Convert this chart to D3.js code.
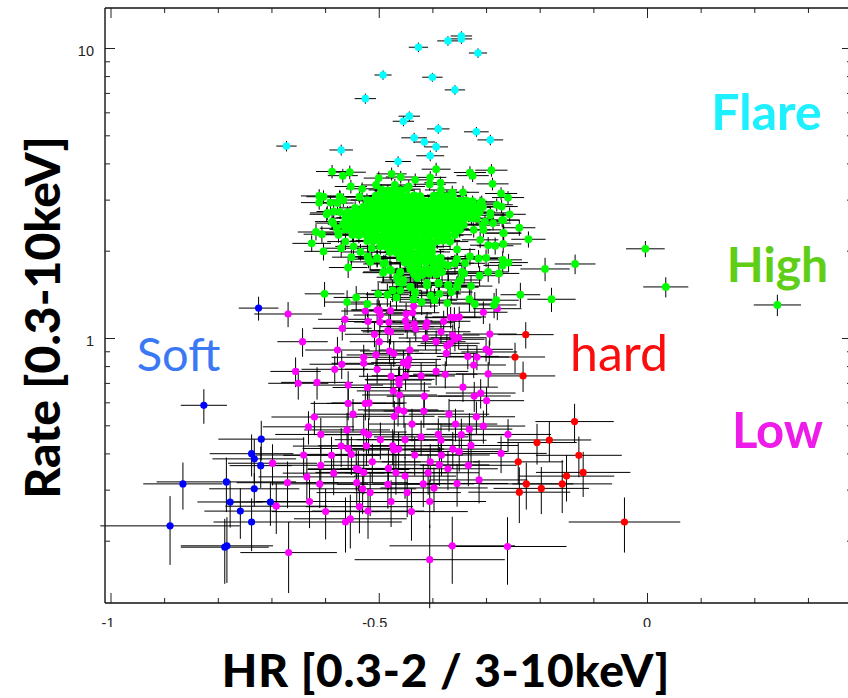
<!DOCTYPE html>
<html><head><meta charset="utf-8">
<script src="https://cdn.jsdelivr.net/npm/d3@7"></script>
<style>html,body{margin:0;padding:0;background:#fff;overflow:hidden}svg{display:block}</style>
</head><body><svg id="c" width="848" height="698"></svg>
<script>
// ---- Flare ----
const flareHr=[-.346,-.346,-.371,-.426,-.315,-.492,-.400,-.358,-.525,-.443,-.454,-.389,-.318,-.434,-.415,-.292,-.393,-.672,-.570,-.404,-.464];
const flareRate=[11.0,10.75,10.58,10.06,9.61,8.07,7.93,7.17,6.69,5.82,5.59,5.26,5.14,4.90,4.74,4.82,4.56,4.59,4.45,4.25,4.06];
const flareHrErr=[.02,.02,.02,.018,.017,.016,.019,.019,.02,.02,.02,.021,.023,.024,.02,.024,.022,.019,.022,.026,.024];
const flareRateErr=[.42,.42,.4,.38,.36,.3,.28,.27,.27,.22,.22,.2,.2,.2,.17,.2,.18,.19,.19,.18,.17];
// ---- High: resolved points around the cloud ----
const highHr=[-.587,-.567,-.554,-.552,-.500,-.505,-.476,-.459,-.432,-.393,-.404,-.405,-.385,-.384,-.330,-.325,-.290,-.288,-.343,-.363,
-.272,-.259,-.470,-.444,-.531,-.536,-.522,-.611,-.603,-.611,-.590,-.573,-.566,-.597,-.584,-.587,-.578,-.617,-.606,-.625,
-.603,-.570,-.575,-.562,-.551,-.557,-.519,-.503,-.513,-.491,-.491,-.477,-.460,-.454,-.463,-.474,-.460,-.441,-.432,-.467,
-.501,-.484,-.542,-.559,-.521,-.601,-.435,-.420,-.403,-.387,-.396,-.372,-.365,-.370,-.388,-.410,-.429,-.382,-.379,-.358,
-.341,-.348,-.354,-.328,-.331,-.321,-.285,-.281,-.236,-.312,-.296,-.276,-.269,-.258,-.269,-.314,-.300,-.354,-.354,-.238,
-.221,-.256,-.268,-.267,-.268,-.283,-.296,-.311,-.280,-.271,-.308,-.311,-.317,-.306,-.292,-.302,-.323,-.003,.035,.243,
-.134,-.190,-.178,
-.547,-.534,-.521,-.516,-.503,-.330,-.339,-.345,-.352,-.354,
-.466,-.460,-.456,-.441,-.432,-.311,-.317,-.292,-.287,-.305,
-.270,-.268,-.596,-.585,-.575,-.572,-.544,-.577,-.572,-.488,
-.479,-.492,-.371,-.389,-.410,-.371,-.428];
const highRate=[3.75,3.63,3.73,3.33,3.56,3.37,3.68,3.59,3.51,3.82,3.58,3.39,3.43,3.24,3.72,3.63,3.79,3.40,3.18,3.18,
3.15,3.05,3.37,3.33,3.27,3.07,2.99,3.09,3.07,2.93,2.93,3.07,2.99,2.67,2.73,2.52,2.39,2.32,2.28,2.12,
1.99,2.04,2.27,2.15,1.90,1.75,1.87,1.88,2.04,1.80,1.69,1.71,1.69,1.585,1.56,1.46,1.46,1.50,1.44,1.38,
1.42,1.41,1.38,1.33,1.31,1.42,1.36,1.33,1.40,1.42,1.35,1.32,1.44,1.52,1.54,1.52,1.65,1.69,1.80,1.81,
1.67,1.585,1.50,1.51,1.36,1.31,1.30,1.35,1.41,1.64,1.69,1.67,1.86,1.82,1.78,1.88,1.89,2.02,1.87,2.40,
2.19,2.67,2.55,2.30,2.11,2.08,2.09,2.18,2.88,2.84,2.95,2.84,2.58,2.45,2.65,2.52,2.36,2.03,1.50,1.30,
1.80,1.73,1.36,
2.07,1.98,1.91,1.83,1.89,1.91,1.81,1.69,1.55,1.50,
1.62,1.69,1.55,1.50,1.43,2.92,2.70,2.70,2.49,2.36,
2.55,2.30,2.70,2.49,2.30,2.72,2.81,2.92,3.06,1.81,
1.72,1.68,1.78,1.55,1.55,1.52,1.61];
const highHrErr=[.03,.028,.03,.03,.028,.028,.028,.028,.03,.027,.03,.03,.03,.03,.03,.03,.03,.03,.03,.03,
.03,.03,.03,.03,.03,.032,.03,.034,.032,.034,.03,.03,.03,.032,.032,.032,.032,.034,.034,.036,
.036,.034,.034,.034,.036,.036,.036,.036,.034,.038,.038,.038,.038,.04,.04,.04,.04,.04,.04,.042,
.04,.04,.042,.042,.042,.037,.042,.042,.04,.04,.042,.042,.04,.04,.04,.04,.038,.038,.036,.036,
.038,.04,.04,.04,.042,.042,.042,.042,.037,.036,.038,.038,.036,.036,.036,.036,.036,.034,.036,.03,
.032,.03,.03,.032,.034,.034,.034,.034,.03,.03,.03,.03,.032,.032,.03,.032,.032,.036,.042,.044,
.038,.046,.045,
.034,.036,.036,.038,.036,.036,.037,.038,.04,.04,
.038,.038,.04,.04,.042,.03,.032,.032,.033,.033,
.033,.034,.032,.033,.034,.032,.03,.03,.03,.037,
.038,.038,.037,.04,.04,.04,.039];
const highRateErr=[.2,.2,.2,.18,.19,.18,.19,.18,.18,.2,.18,.17,.17,.17,.19,.18,.19,.17,.17,.17,
.16,.16,.17,.17,.17,.16,.16,.17,.16,.16,.16,.16,.16,.15,.15,.15,.14,.15,.15,.14,
.14,.14,.14,.14,.14,.14,.13,.13,.14,.13,.13,.13,.13,.13,.13,.13,.13,.13,.13,.13,
.13,.13,.13,.13,.13,.14,.13,.13,.13,.13,.13,.13,.13,.13,.13,.13,.13,.13,.13,.13,
.13,.13,.13,.13,.13,.13,.13,.13,.14,.13,.13,.13,.13,.13,.13,.13,.13,.13,.13,.15,
.14,.15,.15,.14,.14,.14,.14,.14,.15,.15,.15,.15,.14,.14,.14,.14,.14,.13,.12,.11,
.14,.16,.13,
.14,.13,.13,.13,.13,.13,.13,.13,.13,.13,
.13,.13,.13,.13,.13,.15,.15,.15,.14,.14,
.14,.14,.15,.14,.14,.15,.15,.15,.16,.13,
.13,.13,.13,.13,.13,.13,.13];
// ---- High: dense cloud, positions estimated from its outline ----
const coreHr=[
-.495,-.483,-.471,-.459,-.448,
-.505,-.493,-.481,-.470,-.458,-.446,-.434,-.423,-.397,-.385,-.373,-.362,
-.513,-.501,-.489,-.478,-.466,-.454,-.442,-.431,-.419,-.407,-.395,-.384,-.372,-.360,-.348,-.337,-.325,
-.529,-.517,-.506,-.494,-.482,-.470,-.459,-.447,-.435,-.423,-.412,-.400,-.388,-.376,-.365,-.353,-.341,-.329,-.318,-.306,
-.558,-.546,-.534,-.523,-.511,-.499,-.487,-.476,-.464,-.452,-.440,-.429,-.417,-.405,-.393,-.382,-.370,-.358,-.346,-.335,-.323,-.312,
-.562,-.550,-.539,-.527,-.515,-.503,-.492,-.480,-.468,-.456,-.445,-.433,-.421,-.409,-.398,-.386,-.374,-.362,-.351,-.339,-.327,
-.566,-.554,-.542,-.531,-.519,-.507,-.495,-.484,-.472,-.460,-.448,-.437,-.425,-.413,-.401,-.390,-.378,-.366,-.354,-.342,
-.562,-.550,-.538,-.526,-.515,-.503,-.491,-.479,-.468,-.456,-.444,-.432,-.421,-.409,-.397,-.385,-.374,-.362,-.349,
-.549,-.537,-.525,-.513,-.502,-.490,-.478,-.466,-.455,-.443,-.431,-.419,-.408,-.396,-.384,-.372,-.358,
-.521,-.509,-.497,-.485,-.474,-.462,-.450,-.438,-.427,-.415,-.403,-.391,-.380,-.367,
-.497,-.485,-.473,-.461,-.449,-.438,-.426,-.414,-.401,
-.479,-.466,-.453,-.440,-.427,-.414,-.401,
-.460,-.448,-.435,-.423,-.410,-.398,-.385,
-.451,-.438,-.425,-.412,-.398,-.385,
-.441,-.427,-.414,-.400,-.387,
-.434,-.420,-.406,-.392];
const coreRate=[
3.24,3.22,3.25,3.23,3.26,
3.09,3.10,3.08,3.11,3.09,3.07,3.10,3.08,3.09,3.11,3.08,3.10,
2.97,2.96,2.98,2.97,2.95,2.98,2.96,2.97,2.99,2.96,2.97,2.95,2.98,2.96,2.97,2.98,2.96,
2.83,2.84,2.82,2.83,2.85,2.82,2.84,2.83,2.81,2.84,2.83,2.85,2.82,2.83,2.84,2.82,2.83,2.85,2.82,2.83,
2.71,2.70,2.72,2.71,2.69,2.71,2.73,2.70,2.71,2.72,2.70,2.71,2.69,2.72,2.71,2.70,2.72,2.71,2.69,2.71,2.70,2.72,
2.59,2.60,2.58,2.59,2.61,2.58,2.59,2.60,2.58,2.59,2.60,2.57,2.59,2.61,2.59,2.58,2.60,2.59,2.57,2.60,2.59,
2.47,2.48,2.46,2.47,2.49,2.47,2.46,2.48,2.47,2.45,2.47,2.48,2.46,2.47,2.49,2.47,2.46,2.48,2.47,2.46,
2.37,2.38,2.36,2.37,2.36,2.38,2.37,2.35,2.37,2.38,2.36,2.37,2.38,2.36,2.37,2.35,2.37,2.38,2.36,
2.27,2.26,2.28,2.27,2.25,2.27,2.28,2.26,2.27,2.28,2.26,2.27,2.25,2.27,2.28,2.26,2.27,
2.16,2.17,2.15,2.16,2.17,2.15,2.16,2.17,2.15,2.16,2.14,2.16,2.17,2.15,
2.07,2.06,2.08,2.07,2.06,2.08,2.07,2.06,2.07,
1.98,1.97,1.99,1.98,1.97,1.99,1.98,
1.89,1.90,1.88,1.89,1.90,1.88,1.89,
1.82,1.81,1.83,1.82,1.81,1.82,
1.73,1.74,1.72,1.73,1.74,
1.66,1.65,1.67,1.66];
const coreHrErr=[
.024,.026,.025,.024,.026,
.025,.026,.027,.024,.026,.025,.027,.024,.026,.025,.027,.026,
.026,.027,.025,.028,.026,.027,.025,.026,.028,.027,.025,.026,.028,.027,.026,.028,.027,
.026,.028,.027,.025,.028,.026,.027,.029,.026,.028,.027,.025,.028,.027,.026,.029,.027,.028,.026,.029,
.028,.027,.029,.026,.028,.027,.029,.027,.026,.028,.029,.027,.026,.028,.029,.027,.028,.026,.029,.028,.027,.029,
.028,.029,.027,.03,.028,.027,.029,.028,.03,.027,.028,.029,.027,.03,.028,.029,.027,.03,.028,.029,.03,
.029,.03,.028,.031,.029,.03,.028,.031,.03,.029,.028,.031,.03,.029,.031,.028,.03,.029,.031,.03,
.03,.031,.029,.032,.03,.031,.029,.032,.03,.031,.029,.032,.03,.031,.032,.029,.031,.03,.032,
.031,.032,.03,.033,.031,.032,.03,.033,.031,.032,.03,.033,.031,.032,.033,.03,.032,
.032,.034,.031,.033,.032,.034,.031,.033,.032,.034,.031,.033,.032,.034,
.033,.035,.032,.034,.036,.033,.035,.032,.034,
.035,.033,.036,.034,.032,.036,.034,
.035,.037,.034,.036,.033,.037,.035,
.036,.034,.037,.035,.033,.036,
.037,.035,.038,.036,.034,
.038,.036,.034,.037];
const coreRateErr=[
.15,.15,.16,.15,.15,
.15,.15,.15,.16,.15,.15,.15,.16,.15,.15,.15,.15,
.15,.14,.15,.15,.14,.15,.15,.14,.15,.15,.14,.15,.15,.14,.15,.15,.14,
.14,.15,.14,.14,.15,.14,.14,.15,.14,.14,.15,.14,.14,.15,.14,.14,.15,.14,.14,.15,
.14,.14,.15,.14,.14,.14,.15,.14,.14,.14,.15,.14,.14,.14,.15,.14,.14,.14,.15,.14,.14,.14,
.14,.14,.14,.15,.14,.14,.14,.14,.15,.14,.14,.14,.14,.15,.14,.14,.14,.14,.15,.14,.14,
.14,.13,.14,.14,.13,.14,.14,.13,.14,.14,.13,.14,.14,.13,.14,.14,.13,.14,.14,.13,
.14,.13,.14,.13,.14,.13,.14,.13,.14,.13,.14,.13,.14,.13,.14,.13,.14,.13,.14,
.13,.14,.13,.13,.14,.13,.13,.14,.13,.13,.14,.13,.13,.14,.13,.13,.14,
.13,.14,.13,.13,.14,.13,.13,.14,.13,.13,.14,.13,.13,.14,
.13,.13,.14,.13,.13,.14,.13,.13,.14,
.13,.14,.13,.13,.14,.13,.13,
.13,.14,.13,.13,.14,.13,.13,
.13,.14,.13,.13,.14,.13,
.13,.14,.13,.13,.14,
.13,.13,.14,.13];
// ---- Low ----
const lowHr=[
-.669,-.563,-.525,-.503,-.499,-.497,-.478,-.520,-.498,-.481,
-.568,-.483,-.478,-.508,-.499,-.642,-.577,-.528,-.505,-.480,
-.472,-.528,-.569,-.582,-.503,-.655,-.477,-.463,-.462,-.650,
-.615,-.557,-.521,-.473,-.461,-.557,-.525,-.518,-.464,-.548,
-.471,-.620,-.631,-.559,-.608,-.528,-.519,-.497,-.570,-.557,
-.523,-.474,-.472,-.463,-.551,-.640,-.588,-.698,-.512,-.608,
-.542,-.538,-.528,-.482,-.468,-.584,-.634,-.670,-.610,-.541,
-.483,-.530,-.516,-.629,-.477,-.691,-.536,-.520,-.599,-.553,
-.562,-.668,-.435,-.449,-.437,-.366,-.359,-.350,-.305,-.279,
-.450,-.434,-.431,-.410,-.412,-.379,-.384,-.447,-.293,-.413,
-.393,-.362,-.351,-.358,-.367,-.373,-.442,-.374,-.300,-.294,
-.334,-.317,-.323,-.444,-.454,-.446,-.393,-.376,-.296,-.450,
-.421,-.461,-.343,-.415,-.322,-.310,-.299,-.453,-.416,-.369,
-.318,-.438,-.357,-.305,-.331,-.346,-.389,-.421,-.384,-.451,
-.259,-.328,-.362,-.350,-.433,-.383,-.272,-.404,-.387,-.371,
-.333,-.408,-.451,-.417,-.397,-.354,-.313,-.447,-.405,-.439,
-.363,-.260,-.405];
const lowRate=[
1.21,1.16,1.239,1.249,1.249,1.20,1.242,1.14,1.135,1.133,
1.08,1.06,1.05,1.03,.971,.971,.909,.858,.874,.902,
.885,.818,.812,.78,.78,.767,.738,.716,.694,.698,
.703,.688,.675,.657,.636,.595,.595,.597,.565,.546,
.537,.534,.494,.482,.465,.474,.464,.446,.424,.416,
.425,.425,.411,.414,.397,.395,.394,.37,.374,.364,
.354,.352,.344,.355,.343,.342,.332,.317,.314,.317,
.313,.302,.293,.273,.273,.263,.262,.253,.252,.238,
.232,.182,1.289,1.212,1.222,1.179,1.175,1.182,1.227,1.262,
1.145,1.118,1.074,1.129,1.094,1.142,1.051,1.094,1.032,1.0,
.971,1.024,1.002,.99,.959,.941,.909,.885,.914,.895,
.864,.86,.807,.844,.822,.805,.767,.75,.752,.741,
.74,.72,.677,.63,.631,.646,.608,.56,.56,.546,
.535,.505,.505,.497,.485,.464,.465,.456,.444,.446,
.465,.426,.414,.406,.395,.395,.400,.374,.365,.354,
.364,.343,.334,.314,.304,.315,.324,.293,.273,.252,
.192,.191,.172];
const lowHrErr=[
.063,.05,.045,.048,.052,.05,.046,.05,.048,.05,
.055,.05,.052,.055,.055,.047,.06,.06,.055,.055,
.055,.06,.06,.062,.06,.047,.06,.062,.06,.056,
.067,.065,.065,.068,.07,.07,.072,.07,.075,.075,
.075,.08,.085,.08,.085,.08,.085,.085,.09,.085,
.09,.085,.09,.085,.09,.09,.09,.083,.09,.09,
.09,.095,.09,.09,.095,.095,.09,.095,.09,.095,
.095,.1,.1,.1,.1,.095,.1,.105,.1,.105,
.105,.09,.045,.048,.05,.048,.05,.05,.045,.045,
.05,.05,.052,.05,.05,.05,.055,.05,.05,.05,
.055,.05,.052,.055,.055,.055,.058,.058,.05,.052,
.058,.06,.06,.06,.06,.062,.06,.06,.06,.063,
.063,.065,.065,.07,.068,.065,.07,.075,.075,.075,
.072,.08,.078,.078,.08,.085,.085,.088,.085,.09,
.08,.088,.09,.09,.09,.09,.085,.09,.093,.093,
.09,.095,.095,.095,.1,.095,.09,.1,.105,.105,
.117,.11,.14];
const lowRateErr=[
.12,.11,.11,.11,.1,.11,.1,.1,.1,.1,
.1,.1,.1,.1,.095,.11,.1,.09,.09,.09,
.09,.085,.09,.085,.085,.09,.08,.08,.08,.085,
.09,.08,.08,.08,.075,.075,.075,.075,.07,.07,
.07,.072,.065,.07,.065,.07,.065,.065,.065,.065,
.063,.06,.06,.06,.06,.06,.062,.06,.058,.06,
.056,.056,.055,.056,.055,.055,.055,.058,.055,.055,
.055,.055,.05,.052,.05,.052,.05,.05,.05,.05,
.05,.05,.12,.11,.11,.1,.1,.1,.11,.11,
.1,.1,.1,.1,.1,.1,.09,.1,.09,.09,
.09,.09,.09,.09,.09,.09,.09,.085,.085,.085,
.085,.085,.08,.085,.085,.08,.08,.08,.075,.08,
.08,.08,.075,.075,.075,.075,.07,.07,.07,.07,
.068,.065,.065,.065,.065,.063,.063,.063,.062,.062,
.06,.06,.06,.06,.06,.06,.058,.056,.056,.055,
.056,.055,.055,.053,.053,.053,.055,.052,.052,.052,
.05,.05,.055];
// ---- Soft ----
const softHr=[-.724,-.826,-.719,-.737,-.732,-.720,-.865,-.784,-.732,-.777,-.702,-.758,-.737,-.889,-.787,-.783];
const softRate=[1.268,.586,.448,.399,.383,.363,.314,.319,.302,.272,.272,.253,.232,.225,.190,.192];
const softHrErr=[.037,.043,.08,.078,.078,.058,.074,.13,.084,.061,.074,.067,.071,.13,.082,.086];
const softRateErr=[.12,.08,.07,.066,.065,.059,.058,.068,.04,.05,.047,.05,.048,.06,.048,.049];
// ---- Hard ----
const hardHr=[-.226,-.246,-.231,-.135,-.205,-.182,-.127,-.240,-.119,-.150,-.225,-.158,-.197,-.238,-.042];
const hardRate=[1.027,.86,.74,.515,.436,.445,.394,.374,.344,.334,.314,.314,.303,.294,.232];
const hardHrErr=[.052,.056,.06,.073,.074,.078,.08,.084,.088,.089,.088,.093,.089,.095,.104];
const hardRateErr=[.107,.103,.089,.078,.07,.071,.063,.06,.061,.061,.058,.065,.056,.064,.05];
// ---- Axes and labels ----
const xMajor=[-1,-.5,0];
const xMinor=[-.9,-.8,-.7,-.6,-.4,-.3,-.2,-.1,.1,.2,.3];
const yMajor=[1,10];
const yMinor=[.2,.3,.4,.5,.6,.7,.8,.9,2,3,4,5,6,7,8,9];
const xTickText=["-1","-0.5","0"];
const yTickText=["1","10"];
const xTitle="HR [0.3-2 / 3-10keV]";
const yTitle="Rate [0.3-10keV]";
const regionNames=["Flare","High","Low","Soft","hard"];

const W=848,H=698,L=105,T=8,B=603,R=852;
const x=d3.scaleLinear().domain([-1,0]).range([110.5,647]);
const y=d3.scaleLog().domain([1,10]).range([338,48]);
const svg=d3.select("#c");
const zip=(h,r,he,re,col,rad)=>h.map((v,i)=>({h:v,r:r[i],he:he[i],re:re[i],col,rad}));
const groups=[
 zip(flareHr,flareRate,flareHrErr,flareRateErr,"#00ffff",3.8),
 zip(lowHr,lowRate,lowHrErr,lowRateErr,"#ff00ff",3.6),
 zip(softHr,softRate,softHrErr,softRateErr,"#0000ff",3.6),
 zip(hardHr,hardRate,hardHrErr,hardRateErr,"#ff0000",3.6),
 zip(coreHr,coreRate,coreHrErr,coreRateErr,"#00ff00",4.1),
 zip(highHr,highRate,highHrErr,highRateErr,"#00ff00",3.9)
];
const pts=groups.flat();
const bars=svg.append("g").attr("stroke","#000").attr("stroke-width",1);
bars.selectAll("line.h").data(pts).join("line").attr("class","h")
 .attr("x1",d=>x(d.h-d.he)).attr("x2",d=>x(d.h+d.he)).attr("y1",d=>y(d.r)).attr("y2",d=>y(d.r));
bars.selectAll("line.v").data(pts).join("line").attr("class","v")
 .attr("x1",d=>x(d.h)).attr("x2",d=>x(d.h)).attr("y1",d=>y(d.r+d.re)).attr("y2",d=>y(d.r-d.re));
svg.append("g").selectAll("circle").data(pts).join("circle")
 .attr("cx",d=>x(d.h)).attr("cy",d=>y(d.r)).attr("r",d=>d.rad).attr("fill",d=>d.col);

function ax(gen,tx,ty){const g=svg.append("g").attr("transform",`translate(${tx},${ty})`).call(gen);
 g.select(".domain").remove();g.selectAll("line").attr("stroke","#222").attr("stroke-width",1);return g;}
const noLab=g=>g.tickFormat("");
ax(noLab(d3.axisBottom(x).tickValues(xMajor).tickSize(-10)),0,B);
ax(noLab(d3.axisBottom(x).tickValues(xMinor).tickSize(-5)),0,B);
ax(noLab(d3.axisTop(x).tickValues(xMajor).tickSize(-10)),0,T);
ax(noLab(d3.axisTop(x).tickValues(xMinor).tickSize(-5)),0,T);
ax(noLab(d3.axisLeft(y).tickValues(yMajor).tickSize(-10)),L,0);
ax(noLab(d3.axisLeft(y).tickValues(yMinor).tickSize(-5)),L,0);
ax(noLab(d3.axisRight(y).tickValues(yMajor).tickSize(-10)),R,0);
ax(noLab(d3.axisRight(y).tickValues(yMinor).tickSize(-5)),R,0);
// frame
svg.append("line").attr("x1",L).attr("x2",L).attr("y1",T).attr("y2",B).attr("stroke","#222").attr("stroke-width",1.5);
svg.append("line").attr("x1",L).attr("x2",W).attr("y1",T).attr("y2",T).attr("stroke","#111").attr("stroke-width",1.3);
svg.append("line").attr("x1",L).attr("x2",W).attr("y1",B).attr("y2",B).attr("stroke","#111").attr("stroke-width",1.5);
// tick labels
svg.append("clipPath").attr("id","xc").append("rect").attr("x",0).attr("y",610).attr("width",W).attr("height",17);
const tl=svg.append("g").attr("font-family","'Liberation Sans',Arial,sans-serif").attr("font-size",14.5).attr("fill","#222");
const xShift=[-2.5,-4,0];
tl.append("g").attr("clip-path","url(#xc)").selectAll("text").data(xMajor).join("text")
 .attr("x",(d,i)=>x(d)+xShift[i]).attr("y",628).attr("text-anchor","middle").text((d,i)=>xTickText[i]);
tl.append("g").selectAll("text").data(yMajor).join("text")
 .attr("x",94).attr("y",d=>y(d)+8).attr("text-anchor","end").text((d,i)=>yTickText[i]);
// titles
const font="Lato,'Open Sans',sans-serif";
svg.append("text").attr("x",446).attr("y",687).attr("text-anchor","middle").attr("font-family",font)
 .attr("font-weight",900).attr("font-size",46).attr("letter-spacing",.8).attr("fill","#000").text(xTitle);
svg.append("text").attr("transform","translate(60,317.5) rotate(-90)").attr("text-anchor","middle").attr("font-family",font)
 .attr("font-weight",900).attr("font-size",48).attr("fill","#000").text(yTitle);
const regionX=[766.5,777.5,777.5,178.5,619],regionY=[130,282,448,371,371],regionW=[700,700,700,400,400],
 regionS=[50,48,49,47,50],regionC=["#1ef0ff","#5fce16","#ee1ce8","#3b78f5","#fa0d0d"];
svg.append("g").selectAll("text").data(regionNames).join("text").attr("font-family",font)
 .attr("text-anchor","middle").attr("font-size",(d,i)=>regionS[i])
 .attr("x",(d,i)=>regionX[i]).attr("y",(d,i)=>regionY[i]).attr("font-weight",(d,i)=>regionW[i])
 .attr("fill",(d,i)=>regionC[i]).text(d=>d);
</script></body></html>
